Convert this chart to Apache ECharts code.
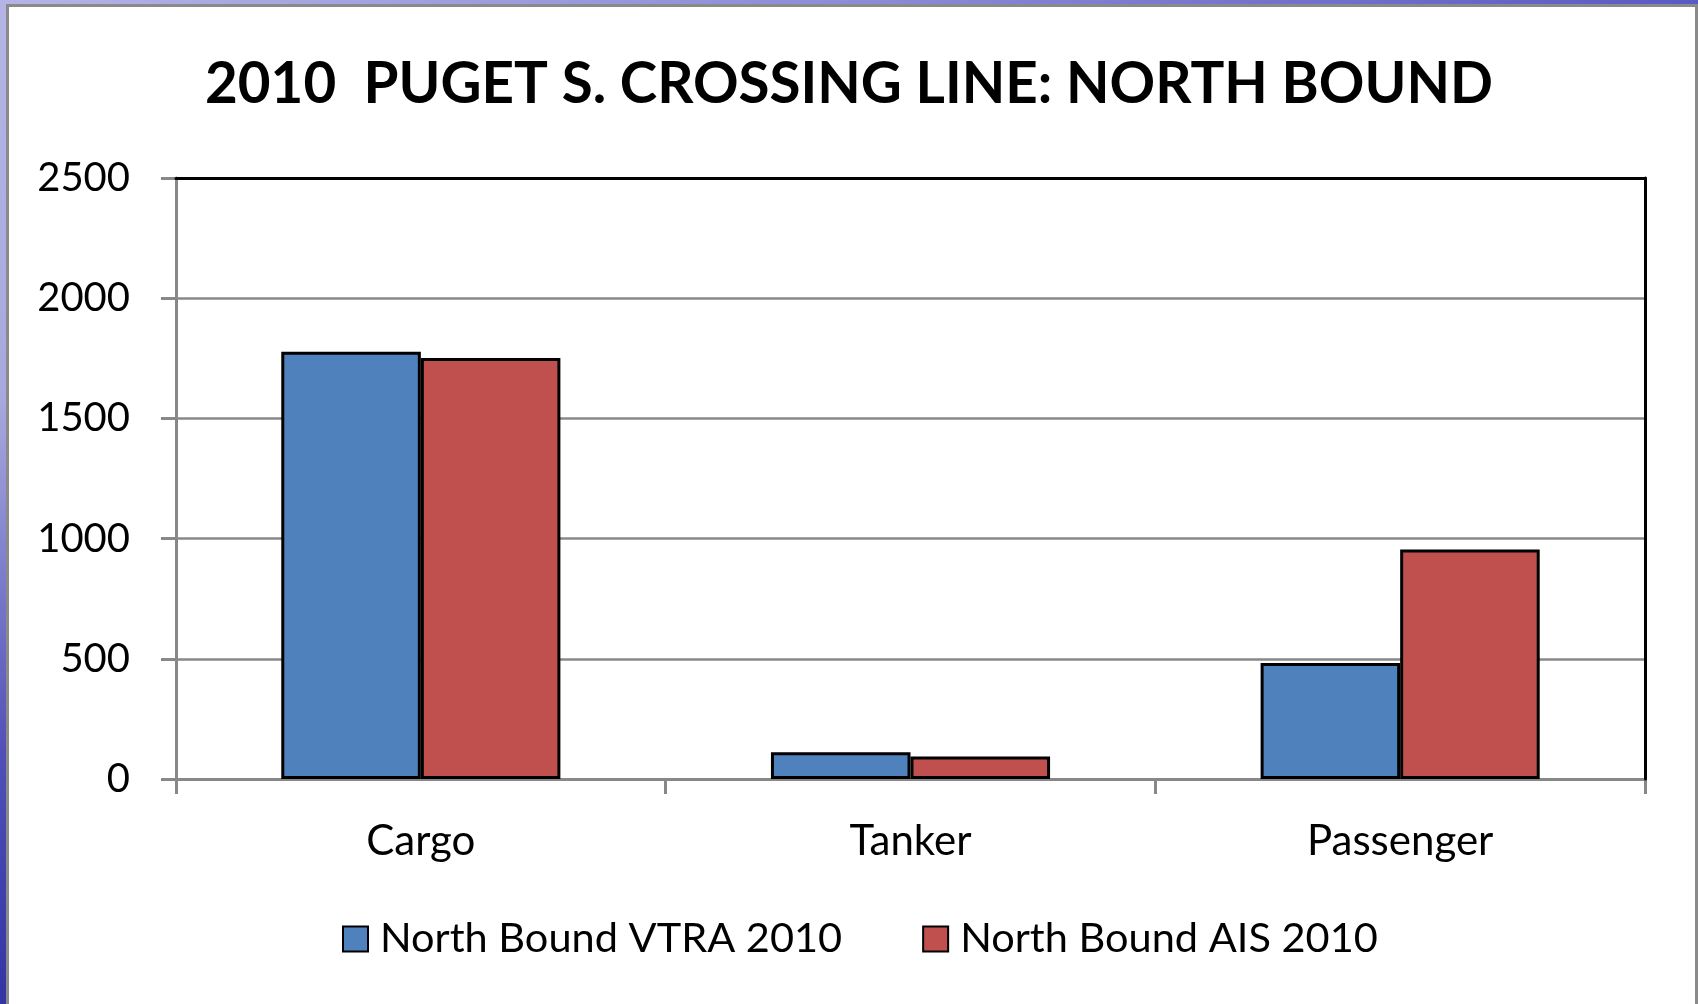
<!DOCTYPE html>
<html>
<head>
<meta charset="utf-8">
<script src="https://cdn.jsdelivr.net/npm/echarts@6/dist/echarts.min.js"></script>
<style>
  html, body { margin: 0; padding: 0; width: 1698px; height: 1004px; overflow: hidden; background: #ffffff; }
  #frameTop { position: absolute; left: 0; top: 0; width: 1698px; height: 4px; background: linear-gradient(to right, #b4b4e6, #8c8cd8 50%, #5a5ac4); }
  #frameLeft { position: absolute; left: 0; top: 0; width: 6px; height: 1004px; background: linear-gradient(to bottom, #b4b4e6, #a8a8de 40%, #5050b8 75%, #3434a4); }
  #panel { position: absolute; left: 6px; top: 4px; width: 1686px; height: 1000px; border-left: 3px solid #8a8a8a; border-top: 3px solid #8a8a8a; border-right: 3px solid #8a8a8a; background: #ffffff; box-sizing: content-box; }
  #main { position: absolute; left: 0; top: 0; width: 1698px; height: 1004px; }
</style>
</head>
<body>
<div id="frameTop"></div>
<div id="frameLeft"></div>
<div id="panel"></div>
<div id="main"></div>
<script>
const titleText = '2010  PUGET S. CROSSING LINE: NORTH BOUND';
const categories = ['Cargo', 'Tanker', 'Passenger'];
const seriesNames = ['North Bound VTRA 2010', 'North Bound AIS 2010'];
const vtraValues = [1777, 111, 483];
const aisValues = [1751, 94, 955];
const yMin = 0, yMax = 2500, yInterval = 500;

const chart = echarts.init(document.getElementById('main'), null, { renderer: 'canvas' });
const fontFamily = 'Lato, "Open Sans", sans-serif';
chart.setOption({
  backgroundColor: 'transparent',
  animation: false,
  title: {
    text: titleText,
    left: 'center',
    top: 51,
    textStyle: { fontFamily: fontFamily, fontWeight: 'bold', fontSize: 56.5, color: '#000000' }
  },
  legend: {
    data: seriesNames,
    left: 337,
    top: 913,
    icon: 'rect',
    itemWidth: 25,
    itemHeight: 25,
    itemGap: 80,
    textStyle: { fontFamily: fontFamily, fontSize: 41.5, color: '#000000', padding: [0, 0, 0, 7] }
  },
  grid: { left: 176, top: 178, right: 53, bottom: 225, containLabel: false },
  xAxis: [{
    type: 'category',
    data: categories,
    boundaryGap: true,
    axisLine: { show: true, onZero: false, lineStyle: { color: '#888888', width: 3 } },
    axisTick: { show: true, length: 15, alignWithLabel: false, lineStyle: { color: '#888888', width: 3 } },
    axisLabel: { fontFamily: fontFamily, fontSize: 42, color: '#000000', margin: 41 },
    z: 3
  }, {
    type: 'category',
    data: categories,
    position: 'top',
    axisLine: { show: true, onZero: false, lineStyle: { color: '#000000', width: 3 } },
    axisTick: { show: false },
    axisLabel: { show: false },
    splitLine: { show: false },
    z: 5
  }],
  yAxis: [{
    type: 'value',
    min: yMin,
    max: yMax,
    interval: yInterval,
    axisLine: { show: true, onZero: false, lineStyle: { color: '#888888', width: 3 } },
    axisTick: { show: true, length: 15, lineStyle: { color: '#888888', width: 3 } },
    axisLabel: { fontFamily: fontFamily, fontSize: 40, color: '#000000', margin: 46, formatter: function (v) { return String(v); } },
    splitLine: { show: true, showMaxLine: false, showMinLine: false, lineStyle: { color: '#888888', width: 2.5 } },
    z: 2
  }, {
    type: 'value',
    min: yMin,
    max: yMax,
    interval: yInterval,
    position: 'right',
    axisLine: { show: true, onZero: false, lineStyle: { color: '#000000', width: 3 } },
    axisTick: { show: false },
    axisLabel: { show: false },
    splitLine: { show: false },
    z: 5
  }],
  series: [{
    name: seriesNames[0],
    type: 'bar',
    data: vtraValues,
    barGap: '0%',
    barCategoryGap: '43%',
    itemStyle: { color: '#4F81BD', borderColor: '#000000', borderWidth: 3 },
    z: 4
  }, {
    name: seriesNames[1],
    type: 'bar',
    data: aisValues,
    barGap: '0%',
    barCategoryGap: '43%',
    itemStyle: { color: '#C0504D', borderColor: '#000000', borderWidth: 3 },
    z: 4
  }]
});
</script>
</body>
</html>
